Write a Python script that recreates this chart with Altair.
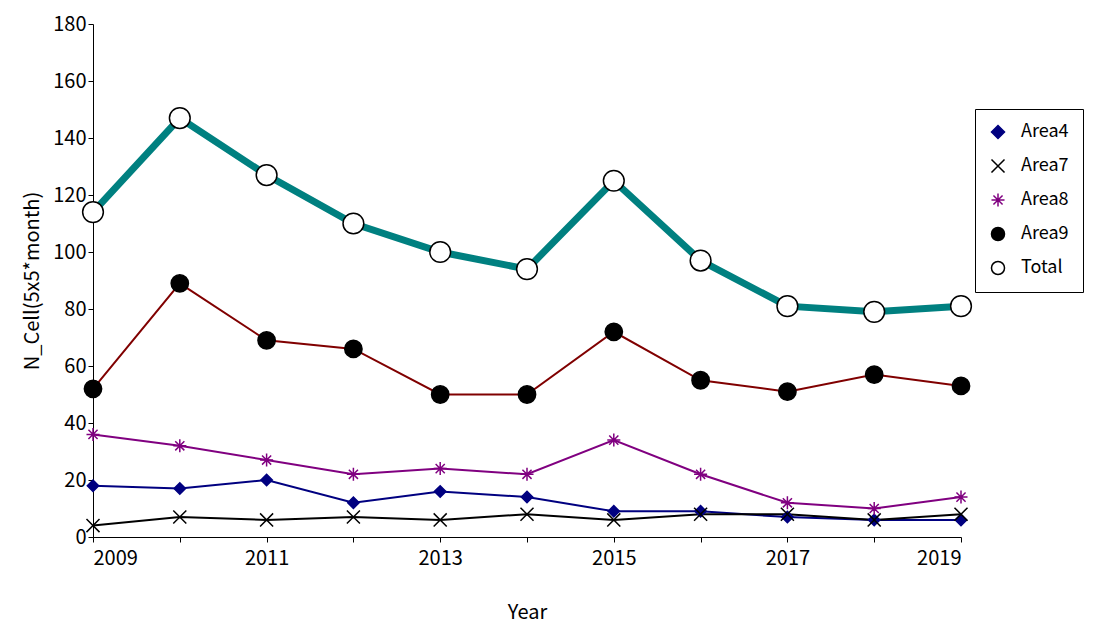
import altair as alt
import pandas as pd

years = list(range(2009, 2020))
area4 = [18, 17, 20, 12, 16, 14, 9, 9, 7, 6, 6]
area7 = [4, 7, 6, 7, 6, 8, 6, 8, 8, 6, 8]
area8 = [36, 32, 27, 22, 24, 22, 34, 22, 12, 10, 14]
area9 = [52, 89, 69, 66, 50, 50, 72, 55, 51, 57, 53]
total = [114, 147, 127, 110, 100, 94, 125, 97, 81, 79, 81]

names = ["Area4", "Area7", "Area8", "Area9", "Total"]
series = [area4, area7, area8, area9, total]

line_colors = ["#000080", "#000000", "#800080", "#800000", "#008080"]
fills = ["#000080", "#000000", "#800080", "#000000", "#ffffff"]
strokes = ["#000080", "#000000", "#800080", "#000000", "#000000"]
shapes = [
    "diamond",
    "M-1,-1L1,1M1,-1L-1,1",
    "M-1,0L1,0M0,-1L0,1M-0.7,-0.7L0.7,0.7M0.7,-0.7L-0.7,0.7",
    "circle",
    "circle",
]
sizes = [130, 170, 170, 300, 430]
widths = [2, 2, 2, 2, 7]
font = "Noto Sans CJK JP"

x = alt.X("Year:Q", scale=alt.Scale(domain=[2009, 2019], nice=False),
          axis=alt.Axis(values=list(range(2009, 2020)), format="d",
                        labelExpr="datum.value % 2 == 1 ? datum.label : ''",
                        grid=False, title="Year", titleFontWeight="normal", titlePadding=34,
                        tickSize=5, labelPadding=6))
y = alt.Y("N:Q", scale=alt.Scale(domain=[0, 180]),
          axis=alt.Axis(values=list(range(0, 181, 20)), grid=False, title="N_Cell(5x5*month)",
                        titleFontWeight="normal", tickSize=5, titlePadding=10))

leg = alt.Legend(title=None, orient="none", legendX=882, legendY=85, strokeColor="#000000",
                 padding=14, rowPadding=14, labelFontSize=18, labelFont=font, labelOffset=14,
                 symbolStrokeWidth=1.5, symbolSize=170, labelColor="#000", labelLimit=200)

layers = []
for i, (n, vals) in enumerate(zip(names, series)):
    d = pd.DataFrame({"Year": years, "N": vals, "Series": n})
    layers.append(alt.Chart(d).mark_line(color=line_colors[i], strokeWidth=widths[i]).encode(x=x, y=y))
for i, (n, vals) in enumerate(zip(names, series)):
    d = pd.DataFrame({"Year": years, "N": vals, "Series": n})
    layers.append(
        alt.Chart(d).mark_point(filled=False, strokeWidth=1.5, opacity=1, size=sizes[i]).encode(
            x=x, y=y,
            shape=alt.Shape("Series:N", scale=alt.Scale(domain=names, range=shapes), legend=leg),
            fill=alt.Fill("Series:N", scale=alt.Scale(domain=names, range=fills), legend=leg),
            stroke=alt.Stroke("Series:N", scale=alt.Scale(domain=names, range=strokes), legend=leg),
        )
    )

chart = (
    alt.layer(*layers)
    .properties(width=868, height=513, padding={"left": 14, "top": 6, "right": 5, "bottom": 5})
    .configure_view(stroke=None)
    .configure_axis(labelFont=font, titleFont=font, labelFontSize=20, titleFontSize=20,
                    labelColor="#000", titleColor="#000", domainColor="#000", tickColor="#000")
)
chart.save("out.html", embed_options={"renderer": "svg", "actions": False})
